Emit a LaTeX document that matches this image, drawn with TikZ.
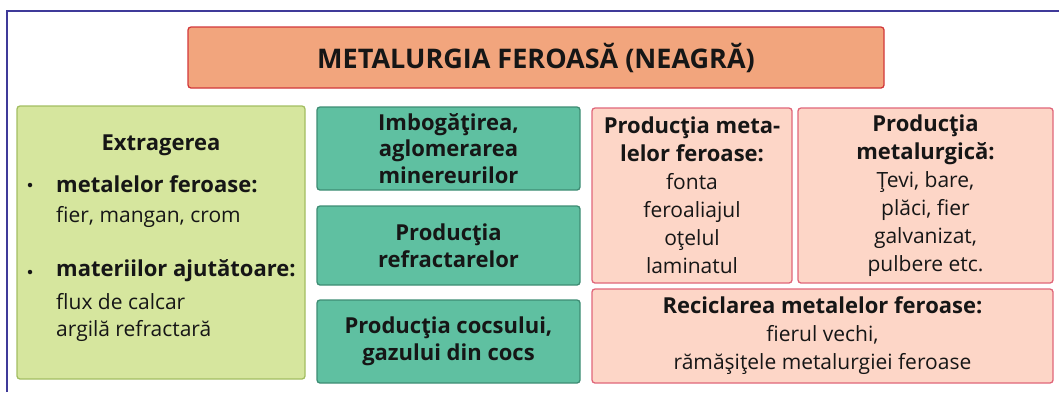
\documentclass[tikz,border=0pt]{standalone}
\usepackage{fontspec}
\usepackage{xcolor}
\setmainfont{Open Sans}
\newfontfamily\titlefont{Open Sans}
\usetikzlibrary{positioning}
\definecolor{framecol}{HTML}{3F3A99}
\definecolor{titlefill}{HTML}{F2A57D}
\definecolor{titleline}{HTML}{D2383A}
\definecolor{greenfill}{HTML}{D6E69E}
\definecolor{greenline}{HTML}{A3BE62}
\definecolor{tealfill}{HTML}{5FC0A1}
\definecolor{tealline}{HTML}{3E8D74}
\definecolor{pinkfill}{HTML}{FDD6C7}
\definecolor{pinkline}{HTML}{E0667A}
\definecolor{inkcol}{HTML}{161616}
\newcommand{\bfsz}{\fontsize{22}{26.5}\selectfont\bfseries}
\newcommand{\rgsz}{\fontsize{21}{28}\selectfont}

\begin{document}
\begin{tikzpicture}[
    x=1pt, y=-1pt,
    box/.style={rectangle, draw, rounded corners=3pt, line width=1.3pt, inner sep=0pt, align=center, text=inkcol},
    titlebox/.style={box, draw=titleline, fill=titlefill, minimum width=696pt, minimum height=61pt},
    greenbox/.style={box, draw=greenline, fill=greenfill, minimum width=288pt, minimum height=273pt},
    tealbox/.style={box, draw=tealline, fill=tealfill, minimum width=263pt, font=\bfsz},
    pinkbox/.style={box, draw=pinkline, fill=pinkfill, font={\fontsize{21}{28}\selectfont}},
    txt/.style={inner sep=0pt, text=inkcol, font=\rgsz},
    dot/.style={circle, fill=inkcol, inner sep=0pt, minimum size=4.5pt}
]
    \useasboundingbox (0,0) rectangle (1059,392);
    % frame
    \draw[framecol, line width=2pt] (7,392) -- (7,11) -- (1059,11);

    % title
    \node[titlebox] (titlu) at (536,57.5) {\titlefont\fontsize{27}{30}\selectfont\bfseries METALURGIA FEROASĂ (NEAGRĂ)};

    % extragerea
    \node[greenbox] (extragere) at (161,242.5) {};
    \node[txt, font=\bfsz] (extrTitlu) at (161,145) {Extragerea};
    \node[dot] (dot1) at (30,185) {};
    \node[txt, anchor=west, font=\bfsz] (metale) at (56,184) {metalelor feroase:};
    \node[txt, anchor=west] (metaleList) at (56,217) {fier, mangan, crom};
    \node[dot] (dot2) at (30,272) {};
    \node[txt, anchor=west, font=\bfsz] (materii) at (56,271) {materiilor ajutătoare:};
    \node[txt, anchor=west, align=left, font={\fontsize{21}{27}\selectfont}] (materiiList) at (56,317) {flux de calcar\\argilă refractară};

    % productie intermediara
    \node[tealbox, minimum height=83pt] (imbogatire) at (448.5,148.5) {Imbogăţirea,\\aglomerarea\\minereurilor};
    \node[tealbox, minimum height=79pt] (refractare) at (448.5,245.5) {Producţia\\refractarelor};
    \node[tealbox, minimum height=83pt] (cocs) at (448.5,341.5) {Producţia cocsului,\\gazului din cocs};

    % productie metale
    \node[pinkbox, minimum width=200pt, minimum height=175pt] (metaleFer) at (692,195.5) {{\bfsz Producţia meta-}\\{\bfsz lelor feroase:}\\fonta\\feroaliajul\\oţelul\\laminatul};
    \node[pinkbox, minimum width=255pt, minimum height=175pt] (metalurgica) at (925.5,195.5) {{\bfsz Producţia}\\{\bfsz metalurgică:}\\Ţevi, bare,\\plăci, fier\\galvanizat,\\pulbere etc.};
    \node[pinkbox, minimum width=461pt, minimum height=94pt] (reciclare) at (822.5,336) {{\bfsz Reciclarea metalelor feroase:}\\fierul vechi,\\rămăşiţele metalurgiei feroase};
\end{tikzpicture}
\end{document}
